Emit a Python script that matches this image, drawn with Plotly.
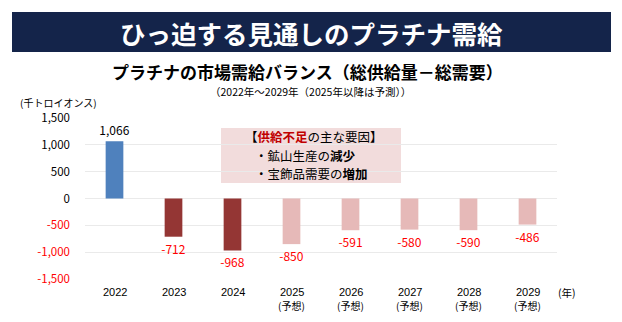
import plotly.graph_objects as go

years = ["2022", "2023", "2024", "2025", "2026", "2027", "2028", "2029"]
forecast = [False, False, False, True, True, True, True, True]
balance = [1066, -712, -968, -850, -591, -580, -590, -486]
bar_colors = ["#4f81bd", "#943634", "#943634", "#e6b9b8", "#e6b9b8", "#e6b9b8", "#e6b9b8", "#e6b9b8"]
label_colors = ["#000000" if v >= 0 else "#ff0000" for v in balance]
y_ticks = [1500, 1000, 500, 0, -500, -1000, -1500]

FONT = "Noto Sans CJK JP"
LATIN = "Liberation Sans"

def fmt(v):
    return f"{v:,}"

tick_text = [fmt(v) if v >= 0 else f'<span style="color:#ff0000">{fmt(v)}</span>' for v in y_ticks]

fig = go.Figure()
fig.add_trace(go.Bar(
    x=years, y=balance,
    marker=dict(color=bar_colors, line=dict(width=0)),
    width=0.3,
    text=[fmt(v) for v in balance],
    textposition="outside",
    constraintext="none",
    textfont=dict(color=label_colors, size=12, family=FONT),
    cliponaxis=False,
))

L, R, T, B = 85, 65, 118, 43
W, H = 622, 322
pw = W - L - R
ph = H - T - B

def px(x):
    return (x - L) / pw

def py(y):
    return (H - B - y) / ph

annotations = [
    dict(text="<b>ひっ迫する見通しのプラチナ需給</b>", xref="paper", yref="paper",
         x=px(311), y=py(32), showarrow=False, xanchor="center", yanchor="middle",
         font=dict(size=25.5, color="white", family=FONT)),
    dict(text="<b>プラチナの市場需給バランス（総供給量－総需要）</b>", xref="paper", yref="paper",
         x=px(307), y=py(71), showarrow=False, xanchor="center", yanchor="middle",
         font=dict(size=17, color="#000000", family=FONT)),
    dict(text="（2022年～2029年（2025年以降は予測））", xref="paper", yref="paper",
         x=px(310), y=py(91), showarrow=False, xanchor="center", yanchor="middle",
         font=dict(size=10.5, color="#000000", family=FONT)),
    dict(text="(千トロイオンス)", xref="paper", yref="paper",
         x=px(18), y=py(102), showarrow=False, xanchor="left", yanchor="middle",
         font=dict(size=10, color="#000000", family=FONT)),
    dict(text="(年)", xref="paper", yref="paper",
         x=px(556), y=py(292), showarrow=False, xanchor="left", yanchor="middle",
         font=dict(size=10.5, color="#000000", family=FONT)),
    dict(text='【<span style="color:#c00000"><b>供給不足</b></span>の主な要因】', xref="paper", yref="paper",
         x=px(243), y=py(136.5), showarrow=False, xanchor="left", yanchor="middle",
         font=dict(size=12.5, color="#000000", family=FONT)),
    dict(text="・鉱山生産の<b>減少</b>", xref="paper", yref="paper",
         x=px(253), y=py(155), showarrow=False, xanchor="left", yanchor="middle",
         font=dict(size=12.5, color="#000000", family=FONT)),
    dict(text="・宝飾品需要の<b>増加</b>", xref="paper", yref="paper",
         x=px(253), y=py(173.5), showarrow=False, xanchor="left", yanchor="middle",
         font=dict(size=12.5, color="#000000", family=FONT)),
]
for i, (yr, fc) in enumerate(zip(years, forecast)):
    annotations.append(dict(text=yr, xref="x", yref="paper", x=i, y=py(292),
                            showarrow=False, xanchor="center", yanchor="middle",
                            font=dict(size=11, color="#000000", family=LATIN)))
    if fc:
        annotations.append(dict(text="(予想)", xref="x", yref="paper", x=i, y=py(305),
                                showarrow=False, xanchor="center", yanchor="middle",
                                font=dict(size=10, color="#000000", family=FONT)))

fig.update_layout(
    width=W, height=H,
    margin=dict(l=L, r=R, t=T, b=B),
    paper_bgcolor="white", plot_bgcolor="white",
    font=dict(family=FONT, size=11, color="#000000"),
    showlegend=False,
    xaxis=dict(
        type="category", range=[-0.5, len(years) - 0.5],
        showticklabels=False,
        showgrid=False, showline=False, ticks="",
    ),
    yaxis=dict(
        range=[-1500, 1500],
        tickvals=y_ticks, ticktext=tick_text,
        showgrid=True, gridcolor="#eaeaea", gridwidth=1,
        zeroline=True, zerolinecolor="#eaeaea", zerolinewidth=1,
        showline=False, ticks="", ticklabelstandoff=14,
        tickfont=dict(size=11.5, family=FONT),
    ),
    shapes=[
        dict(type="rect", xref="paper", yref="paper",
             x0=(12 - L) / pw, x1=(611 - L) / pw,
             y0=py(52), y1=py(12),
             fillcolor="#14244a", line=dict(width=0), layer="above"),
        dict(type="rect", xref="paper", yref="paper",
             x0=px(221), x1=px(401), y0=py(183), y1=py(128),
             fillcolor="#f2dcdc", line=dict(width=0), layer="below"),
    ],
    annotations=annotations,
)

fig.write_html("out.html")
